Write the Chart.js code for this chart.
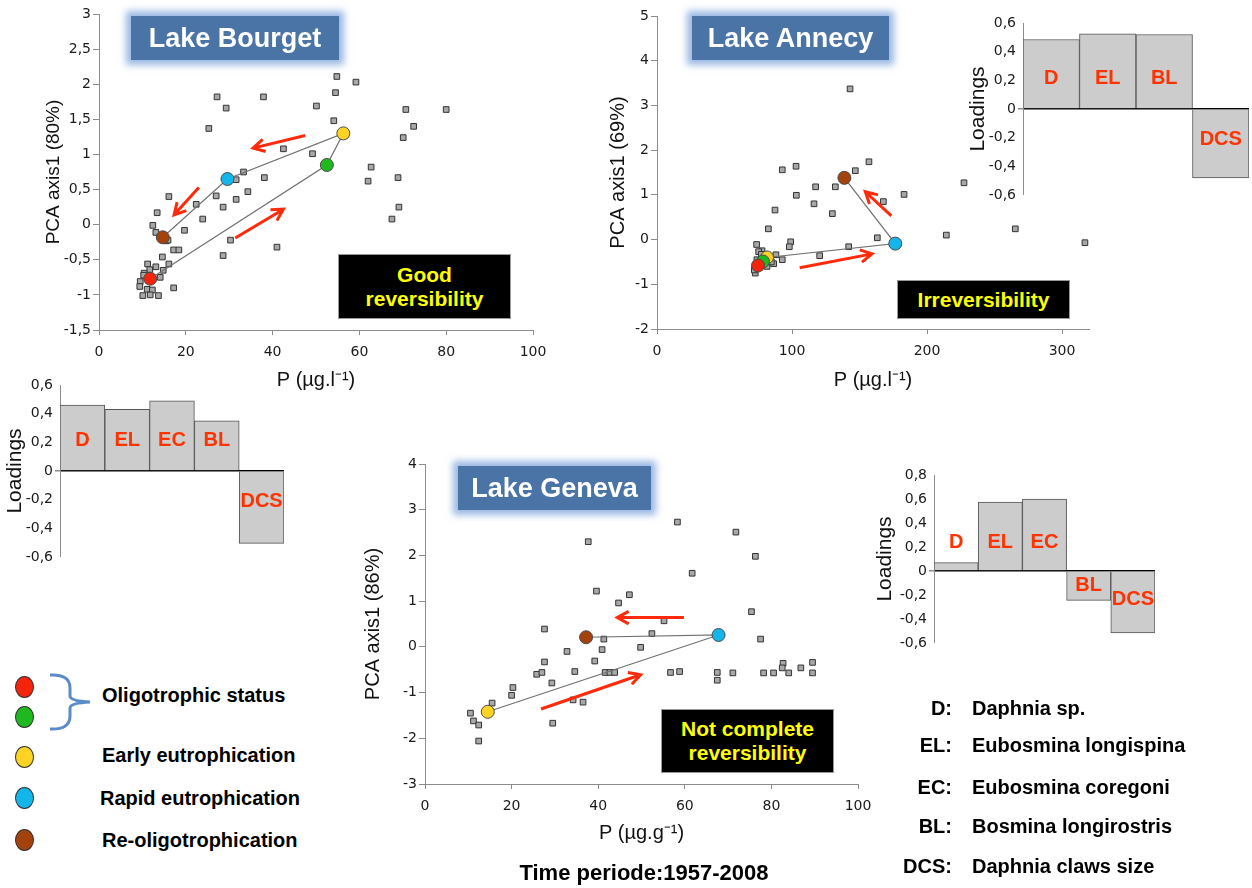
<!DOCTYPE html>
<html>
<head>
<meta charset="utf-8">
<script src="https://cdn.jsdelivr.net/npm/chart.js"></script>
<style>
  body { margin: 0; background: #fff; }
  #page { position: relative; width: 1252px; height: 888px; overflow: hidden; font-family: 'Liberation Sans', Arial, sans-serif; }
  canvas { position: absolute; }
  .lake { position: absolute; height: 44px; background: #4a74a6; color: #fff; font-weight: bold; font-size: 27px; line-height: 44px; text-align: center; box-shadow: 0 0 7px 5px rgba(120,160,218,0.75); }
  .note { position: absolute; background: #000; color: #ffff00; font-weight: bold; font-size: 21px; line-height: 24px; text-align: center; display: flex; align-items: center; justify-content: center; border: 1px solid #999; box-sizing: border-box; }
  .txt { position: absolute; font-weight: bold; font-size: 20px; line-height: 24px; white-space: nowrap; color: #000; }
  .dot { position: absolute; width: 19px; height: 22px; border-radius: 50%; border: 1px solid #333; box-sizing: border-box; }
</style>
</head>
<body>
<div id="page">
  <canvas id="bourget"></canvas>
  <canvas id="annecy"></canvas>
  <canvas id="geneva"></canvas>
  <canvas id="bourgetLoad"></canvas>
  <canvas id="annecyLoad"></canvas>
  <canvas id="genevaLoad"></canvas>

  <div class="lake" style="left:131px;top:16px;width:208px">Lake Bourget</div>
  <div class="lake" style="left:692px;top:16px;width:197px">Lake Annecy</div>
  <div class="lake" style="left:458px;top:466px;width:193px">Lake Geneva</div>

  <div class="note" style="left:338px;top:254px;width:173px;height:65px">Good<br>reversibility</div>
  <div class="note" style="left:897px;top:280px;width:173px;height:39px">Irreversibility</div>
  <div class="note" style="left:661px;top:709px;width:173px;height:64px">Not complete<br>reversibility</div>

  <div id="legend"></div>
  <svg style="position:absolute;left:0;top:0" width="120" height="760">
    <path d="M50,675 Q70,674 70,688 L70,696 Q70,701 90,702 Q70,703 70,708 L70,716 Q70,730 50,729" fill="none" stroke="#5b8bc8" stroke-width="3"/>
  </svg>

  <div class="txt" style="left:0;width:1288px;top:860px;text-align:center;font-size:22px;line-height:26px">Time periode:1957-2008</div>
</div>

<script>
// ---- Lake Bourget : P (µg/l) vs PCA axis 1
const bourgetP = [54.8, 59.2, 54.5, 27.2, 37.9, 29.3, 50.1, 70.7, 80.0, 25.3, 54.1, 72.5, 70.1, 42.5, 49.2, 62.7, 33.3, 31.6, 38.1, 62.0, 68.9, 34.3, 16.1, 27.0, 22.4, 28.6, 31.6, 69.1, 13.4, 23.9, 67.5, 12.4, 19.7, 13.1, 15.5, 30.3, 17.2, 18.4, 41.0, 28.6, 14.6, 16.1, 14.8, 11.2, 13.1, 11.7, 14.1, 9.5, 9.4, 17.2, 11.1, 12.3, 10.1, 11.8, 13.7, 10.4, 15.9, 10.3];
const bourgetPCA = [2.11, 2.03, 1.88, 1.82, 1.82, 1.66, 1.69, 1.64, 1.64, 1.37, 1.48, 1.40, 1.24, 1.08, 1.01, 0.82, 0.75, 0.64, 0.67, 0.62, 0.67, 0.47, 0.40, 0.41, 0.29, 0.25, 0.36, 0.25, 0.17, 0.08, 0.08, -0.01, -0.08, -0.11, -0.23, -0.22, -0.36, -0.36, -0.32, -0.44, -0.46, -0.56, -0.65, -0.56, -0.60, -0.64, -0.75, -0.81, -0.88, -0.90, -0.92, -0.93, -1.01, -1.00, -1.01, -0.69, -0.22, -0.72];

// ---- Lake Annecy
const annecyP = [143.0, 92.8, 103.0, 157.0, 146.9, 117.5, 132.1, 103.2, 183.0, 116.3, 167.7, 87.4, 129.9, 82.5, 163.2, 214.3, 99.0, 98.0, 142.0, 73.8, 120.5, 92.8, 77.8, 88.1, 227.4, 265.4, 317.0, 75.3, 77.3, 86.4, 72.8, 72.1, 81.5, 84.7, 74.0, 76.0];
const annecyPCA = [3.37, 1.56, 1.64, 1.74, 1.54, 1.18, 1.18, 0.99, 1.01, 0.80, 0.85, 0.66, 0.58, 0.24, 0.04, 0.10, -0.05, -0.16, -0.16, -0.11, -0.36, -0.45, -0.25, -0.34, 1.27, 0.24, -0.07, -0.27, -0.33, -0.54, -0.75, -0.68, -0.60, -0.50, -0.45, -0.62];

// ---- Lake Geneva : P (µg/g)
const genevaP = [58.3, 71.8, 37.7, 76.3, 61.7, 39.6, 47.2, 44.7, 75.4, 55.2, 27.6, 52.4, 41.3, 77.5, 49.8, 32.8, 40.9, 27.6, 39.2, 34.6, 25.8, 27.0, 41.6, 42.7, 43.8, 56.7, 58.8, 67.5, 67.5, 71.1, 78.2, 80.5, 82.7, 82.5, 84.0, 86.8, 89.5, 89.5, 29.3, 20.3, 20.0, 15.5, 34.2, 36.5, 10.5, 11.2, 12.4, 12.4, 29.5];
const genevaPCA = [2.73, 2.51, 2.30, 1.98, 1.61, 1.22, 1.14, 0.96, 0.77, 0.57, 0.39, 0.29, 0.17, 0.17, -0.01, -0.10, -0.06, -0.33, -0.31, -0.54, -0.60, -0.56, -0.56, -0.56, -0.56, -0.56, -0.54, -0.56, -0.73, -0.57, -0.57, -0.57, -0.36, -0.46, -0.57, -0.46, -0.34, -0.57, -0.79, -0.89, -1.06, -1.23, -1.16, -1.21, -1.45, -1.62, -1.71, -2.06, -1.67];

// ---- trophic stages (mean positions), in time order
const stageNames = ['Oligotrophic status', 'Oligotrophic status', 'Early eutrophication', 'Rapid eutrophication', 'Re-oligotrophication'];
const stageColors = ['#f5230a', '#1fb81f', '#ffd321', '#14b6ea', '#a3420c'];
const bourgetStageP = [11.8, 52.5, 56.3, 29.6, 14.7];
const bourgetStagePCA = [-0.77, 0.85, 1.30, 0.65, -0.18];
const annecyStageP = [74.8, 78.5, 81.5, 176.5, 138.8];
const annecyStagePCA = [-0.58, -0.49, -0.40, -0.09, 1.38];
const genevaStageP = [null, null, 14.5, 67.8, 37.2];
const genevaStagePCA = [null, null, -1.42, 0.26, 0.21];

// ---- red arrows (x1, y1, x2, y2 in data units)
const bourgetArrows = [[47.5, 1.27, 35.5, 1.09], [23.0, 0.53, 17.3, 0.14], [31.4, -0.19, 42.5, 0.22]];
const annecyArrows = [[105.7, -0.63, 159.3, -0.32], [173.6, 0.53, 154.3, 1.07]];
const genevaArrows = [[59.8, 0.64, 44.4, 0.64], [26.8, -1.36, 49.8, -0.61]];

// ---- PCA loadings
const bourgetTaxa = ['D', 'EL', 'EC', 'BL', 'DCS'];
const bourgetLoad = [0.46, 0.43, 0.49, 0.35, -0.505];
const annecyTaxa = ['D', 'EL', 'BL', 'DCS'];
const annecyLoad = [0.485, 0.525, 0.52, -0.48];
const genevaTaxa = ['D', 'EL', 'EC', 'BL', 'DCS'];
const genevaLoad = [0.07, 0.575, 0.60, -0.245, -0.515];

const taxaCodes = ['D:', 'EL:', 'EC:', 'BL:', 'DCS:'];
const taxaNames = ['Daphnia sp.', 'Eubosmina longispina', 'Eubosmina coregoni', 'Bosmina longirostris', 'Daphnia claws size'];

Chart.defaults.animation = false;
Chart.defaults.font.family = "'DejaVu Sans', Verdana, sans-serif";
Chart.defaults.color = '#1a1a1a';
Chart.defaults.plugins.legend.display = false;
Chart.defaults.plugins.tooltip.enabled = false;

const AXIS = '#8c8c8c';

function comma(v) {
    if (Math.abs(v) < 1e-9) return '0';
    return (Math.round(v * 10) / 10).toString().replace('.', ',');
}

const arrowPlugin = {
    id: 'arrows',
    afterDatasetsDraw(chart, args, opts) {
        const ctx = chart.ctx, sx = chart.scales.x, sy = chart.scales.y;
        ctx.save();
        ctx.strokeStyle = '#ff2a0a';
        ctx.lineWidth = 3;
        (opts.list || []).forEach(a => {
            const x1 = sx.getPixelForValue(a[0]), y1 = sy.getPixelForValue(a[1]);
            const x2 = sx.getPixelForValue(a[2]), y2 = sy.getPixelForValue(a[3]);
            const ang = Math.atan2(y2 - y1, x2 - x1);
            ctx.beginPath();
            ctx.moveTo(x1, y1);
            ctx.lineTo(x2, y2);
            ctx.moveTo(x2 - 13 * Math.cos(ang - 0.5), y2 - 13 * Math.sin(ang - 0.5));
            ctx.lineTo(x2, y2);
            ctx.lineTo(x2 - 13 * Math.cos(ang + 0.5), y2 - 13 * Math.sin(ang + 0.5));
            ctx.stroke();
        });
        ctx.restore();
    }
};

function place(id, box) {
    const cv = document.getElementById(id);
    cv.width = box.w;
    cv.height = box.h;
    cv.style.left = box.x + 'px';
    cv.style.top = box.y + 'px';
    return cv;
}

function scatterChart(id, box, area, s) {
    const cv = place(id, box);
    const yW = area.left - box.x;
    const xH = box.y + box.h - area.bottom;
    const tFont = s.titleSize;
    const lh = tFont * 1.2;

    const stages = [];
    s.stageX.forEach((x, i) => { if (x !== null) stages.push({ x: x, y: s.stageY[i], c: stageColors[i] }); });
    const dots = stages.slice().reverse();

    return new Chart(cv, {
        type: 'scatter',
        data: {
            datasets: [{
                data: dots.map(d => ({ x: d.x, y: d.y })),
                pointRadius: 6.5,
                pointBackgroundColor: dots.map(d => d.c),
                pointBorderColor: '#4a4a4a',
                pointBorderWidth: 1
            }, {
                data: stages.map(d => ({ x: d.x, y: d.y })),
                showLine: true,
                pointRadius: 0,
                borderColor: '#707070',
                borderWidth: 1.2
            }, {
                data: s.px.map((p, i) => ({ x: p, y: s.py[i] })),
                pointStyle: 'rect',
                pointRadius: 4,
                pointBackgroundColor: '#a8a8a8',
                pointBorderColor: '#333',
                pointBorderWidth: 1
            }]
        },
        options: {
            responsive: false,
            layout: { padding: { left: 0, top: area.top - box.y, right: box.x + box.w - area.right, bottom: 0 } },
            plugins: { arrows: { list: s.arrows } },
            scales: {
                x: {
                    type: 'linear', min: s.xMin, max: s.xMax,
                    ticks: { stepSize: s.xStep, includeBounds: false, padding: 9, font: { size: 14 }, callback: v => comma(v) },
                    grid: { drawOnChartArea: false, tickLength: 5, color: AXIS, tickColor: AXIS },
                    border: { color: AXIS },
                    title: { display: true, text: s.xTitle, font: { family: "'Liberation Sans', Arial, sans-serif", size: 20 }, color: '#111', padding: { top: 0, bottom: box.y + box.h - s.xTitleY - 12 } },
                    afterFit: sc => { sc.height = xH; }
                },
                y: {
                    type: 'linear', min: s.yMin, max: s.yMax,
                    ticks: { stepSize: s.yStep, padding: 2, font: { size: 14 }, callback: v => comma(v) },
                    grid: { drawOnChartArea: false, tickLength: 6, color: AXIS, tickColor: AXIS },
                    border: { color: AXIS },
                    title: { display: true, text: s.yTitle, font: { family: "'Liberation Sans', Arial, sans-serif", size: tFont }, color: '#111', padding: { top: s.yTitleX - box.x - lh / 2, bottom: 0 } },
                    afterFit: sc => { sc.width = yW; }
                }
            }
        },
        plugins: [arrowPlugin]
    });
}

const barLabelPlugin = {
    id: 'barLabels',
    afterDatasetsDraw(chart, args, opts) {
        const ctx = chart.ctx, sy = chart.scales.y;
        const meta = chart.getDatasetMeta(0);
        const vals = chart.data.datasets[0].data;
        ctx.save();
        ctx.font = "bold 20px 'Liberation Sans', Arial, sans-serif";
        ctx.fillStyle = '#ff3300';
        ctx.textAlign = 'center';
        ctx.textBaseline = 'middle';
        meta.data.forEach((el, i) => {
            const v = vals[i];
            const ly = v > 0 ? opts.level : -Math.min(opts.level, -v / 2);
            ctx.fillText(chart.data.labels[i], el.x, sy.getPixelForValue(ly));
        });
        ctx.restore();
    }
};

function loadingChart(id, box, area, taxa, vals, yMax, level, titleX) {
    const cv = place(id, box);
    const yW = area.left - box.x;
    return new Chart(cv, {
        type: 'bar',
        data: {
            labels: taxa,
            datasets: [{
                data: vals,
                backgroundColor: '#cccccc',
                borderColor: '#555',
                borderWidth: 1,
                barPercentage: 1,
                categoryPercentage: 1
            }]
        },
        options: {
            responsive: false,
            layout: { padding: { left: 0, top: area.top - box.y, right: box.x + box.w - area.right, bottom: box.y + box.h - area.bottom } },
            plugins: { barLabels: { level: level } },
            scales: {
                x: { display: false },
                y: {
                    min: -0.6, max: yMax, z: 1,
                    ticks: { stepSize: 0.2, padding: 2, font: { size: 14 }, callback: v => comma(v) },
                    grid: {
                        tickLength: 5,
                        tickColor: AXIS,
                        color: c => Math.abs(c.tick.value) < 1e-9 ? '#000' : 'rgba(0,0,0,0)',
                        lineWidth: c => Math.abs(c.tick.value) < 1e-9 ? 1.5 : 0
                    },
                    border: { color: AXIS },
                    title: { display: true, text: 'Loadings', font: { family: "'Liberation Sans', Arial, sans-serif", size: 21 }, color: '#111', padding: { top: titleX - box.x - 12.6, bottom: 0 } },
                    afterFit: sc => { sc.width = yW; }
                }
            }
        },
        plugins: [barLabelPlugin]
    });
}

scatterChart('bourget', { x: 0, y: 0, w: 560, h: 400 }, { left: 99, top: 14, right: 533, bottom: 330 }, {
    px: bourgetP, py: bourgetPCA, stageX: bourgetStageP, stageY: bourgetStagePCA, arrows: bourgetArrows,
    xMin: 0, xMax: 100, xStep: 20, yMin: -1.5, yMax: 3, yStep: 0.5,
    xTitle: 'P (µg.l⁻¹)', xTitleY: 380, yTitle: 'PCA axis1 (80%)', yTitleX: 54, titleSize: 19
});

scatterChart('annecy', { x: 570, y: 0, w: 545, h: 400 }, { left: 657, top: 16, right: 1089, bottom: 329 }, {
    px: annecyP, py: annecyPCA, stageX: annecyStageP, stageY: annecyStagePCA, arrows: annecyArrows,
    xMin: 0, xMax: 320, xStep: 100, yMin: -2, yMax: 5, yStep: 1,
    xTitle: 'P (µg.l⁻¹)', xTitleY: 380, yTitle: 'PCA axis1 (69%)', yTitleX: 618, titleSize: 20
});

scatterChart('geneva', { x: 340, y: 440, w: 545, h: 410 }, { left: 425, top: 464, right: 858, bottom: 784 }, {
    px: genevaP, py: genevaPCA, stageX: genevaStageP, stageY: genevaStagePCA, arrows: genevaArrows,
    xMin: 0, xMax: 100, xStep: 20, yMin: -3, yMax: 4, yStep: 1,
    xTitle: 'P (µg.g⁻¹)', xTitleY: 833, yTitle: 'PCA axis1 (86%)', yTitleX: 373, titleSize: 20
});

loadingChart('bourgetLoad', { x: 0, y: 370, w: 300, h: 200 }, { left: 60, top: 385, right: 284, bottom: 557 }, bourgetTaxa, bourgetLoad, 0.6, 0.21, 15);
loadingChart('annecyLoad', { x: 960, y: 10, w: 292, h: 200 }, { left: 1023, top: 23, right: 1249, bottom: 195 }, annecyTaxa, annecyLoad, 0.6, 0.21, 978);
loadingChart('genevaLoad', { x: 870, y: 460, w: 300, h: 200 }, { left: 934, top: 475, right: 1155, bottom: 643 }, genevaTaxa, genevaLoad, 0.8, 0.24, 885);

// legends built from the arrays
const legend = document.getElementById('legend');
const dotY = [687, 717, 757, 798, 840];
stageColors.forEach((c, i) => {
    const d = document.createElement('div');
    d.className = 'dot';
    d.style.left = '15px';
    d.style.top = (dotY[i] - 11) + 'px';
    d.style.background = c;
    legend.appendChild(d);
});
const stageTextY = [695, null, 755, 798, 840];
const stageTextX = [102, null, 102, 100, 102];
stageNames.forEach((n, i) => {
    if (stageTextY[i] === null) return;
    const t = document.createElement('div');
    t.className = 'txt';
    t.style.left = stageTextX[i] + 'px';
    t.style.top = (stageTextY[i] - 12) + 'px';
    t.textContent = n;
    legend.appendChild(t);
});
const taxaY = [708, 745, 787, 826, 866];
taxaCodes.forEach((code, i) => {
    const a = document.createElement('div');
    a.className = 'txt';
    a.style.left = '880px';
    a.style.width = '72px';
    a.style.textAlign = 'right';
    a.style.top = (taxaY[i] - 12) + 'px';
    a.textContent = code;
    legend.appendChild(a);
    const b = document.createElement('div');
    b.className = 'txt';
    b.style.left = '972px';
    b.style.top = (taxaY[i] - 12) + 'px';
    b.textContent = taxaNames[i];
    legend.appendChild(b);
});
</script>
</body>
</html>
